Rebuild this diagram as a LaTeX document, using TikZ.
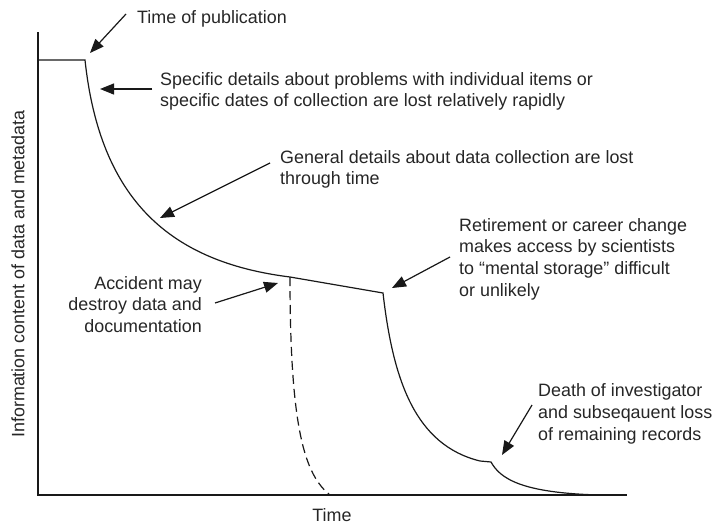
\documentclass[tikz,border=0pt]{standalone}
\usepackage{fontspec}
\setmainfont{Liberation Sans}
\usetikzlibrary{arrows.meta}
\begin{document}
\begin{tikzpicture}[x=1pt,y=-1pt,
  lbl/.style={inner sep=0pt, font=\fontsize{17.9}{21.8}\selectfont, text=black!85},
  curve/.style={line width=1.2pt, draw=black!90},
  pointer/.style={line width=1.2pt, draw=black!90, fill=black!90,
    -{Triangle[length=14pt,width=11pt]}},
]
\useasboundingbox (0,0) rectangle (712,525);

% axes
\draw[curve] (38,32) -- (38,495) -- (627,495);

% information content through time
\draw[curve] (38,60) -- (85,60)
  .. controls (100,200) and (170,262) .. (290,277)
  -- (383,293)
  .. controls (393,380) and (415,445) .. (480,461)
  -- (491,462)
  .. controls (500,478) and (520,493) .. (600,495);

% loss by accident
\draw[curve, dash pattern=on 9pt off 5pt] (290,277)
  .. controls (290,430) and (305,475) .. (330,495);

% axis labels
\node[lbl, rotate=90] (ylab) at (18,274) {Information content of data and metadata};
\node[lbl] (xlab) at (332,515) {Time};

% annotations (anchored at the baseline of their last line)
\node[lbl, anchor=base west] (pub) at (137,23) {Time of publication};
\node[lbl, anchor=base west, align=left] (spec) at (160,106.8)
  {Specific details about problems with individual items or\\specific dates of collection are lost relatively rapidly};
\node[lbl, anchor=base west, align=left] (gen) at (280,184.8)
  {General details about data collection are lost\\through time};
\node[lbl, anchor=base east, align=right] (acc) at (202,332.6)
  {Accident may\\destroy data and\\documentation};
\node[lbl, anchor=base west, align=left] (ret) at (459,296.4)
  {Retirement or career change\\makes access by scientists\\to “mental storage” difficult\\or unlikely};
\node[lbl, anchor=base west, align=left] (death) at (538,440)
  {Death of investigator\\and subseqauent loss\\of remaining records};

% arrow ends
\coordinate (pubT) at (126,14);   \coordinate (pubH) at (90,53);
\coordinate (specT) at (152,89);  \coordinate (specH) at (100,89);
\coordinate (genT) at (270,163);  \coordinate (genH) at (160,218);
\coordinate (accT) at (215,303);  \coordinate (accH) at (278,283);
\coordinate (retT) at (450,257);  \coordinate (retH) at (392,288);
\coordinate (deathT) at (532,405); \coordinate (deathH) at (502,455);

\draw[pointer] (pubT) -- (pubH);
\draw[pointer] (specT) -- (specH);
\draw[pointer] (genT) -- (genH);
\draw[pointer] (accT) -- (accH);
\draw[pointer] (retT) -- (retH);
\draw[pointer] (deathT) -- (deathH);
\end{tikzpicture}
\end{document}
